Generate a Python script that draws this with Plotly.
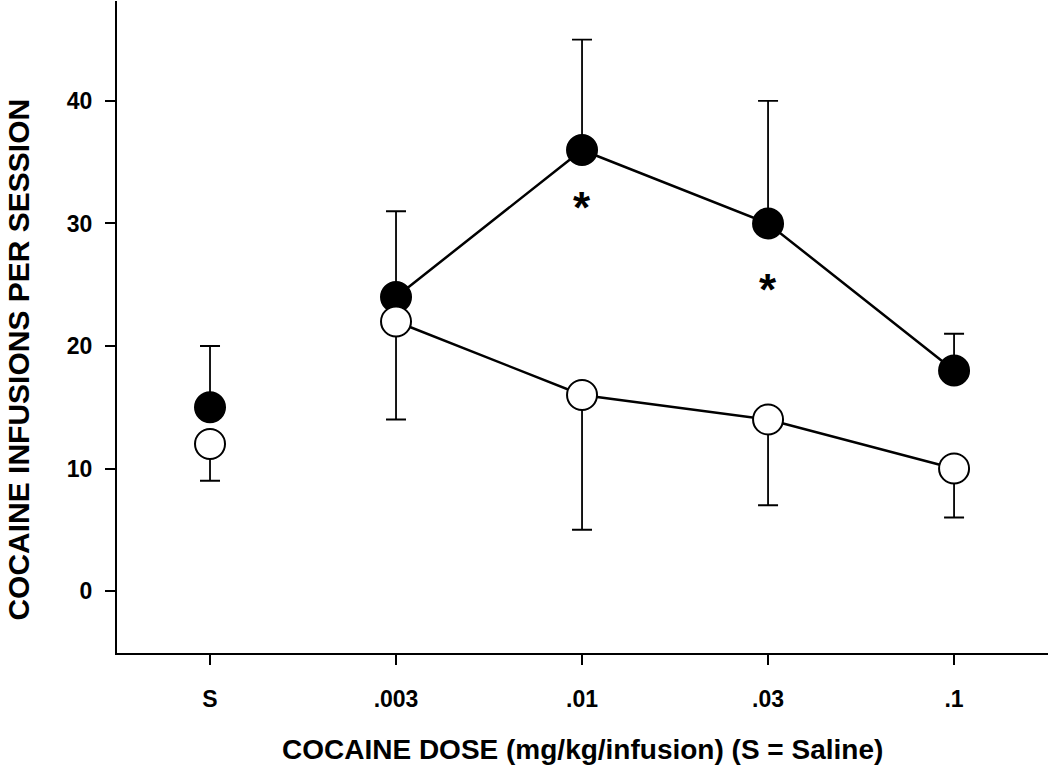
import plotly.graph_objects as go

# ---- data ----
dose_labels = ["S", ".003", ".01", ".03", ".1"]
filled_mean = [15, 24, 36, 30, 18]
filled_err_up = [5, 7, 9, 10, 3]
open_mean = [12, 22, 16, 14, 10]
open_err_down = [3, 8, 11, 7, 4]
y_ticks = [0, 10, 20, 30, 40]
star_idx = [2, 3]
star_y = [31.8, 25.1]

x_idx = list(range(len(dose_labels)))
FONT = "Liberation Sans, Arial, sans-serif"

fig = go.Figure()

def add_group(mean, err, up, fill):
    for sl in (slice(0, 1), slice(1, None)):
        e = err[sl]
        fig.add_trace(go.Scatter(
            x=x_idx[sl], y=mean[sl],
            mode="lines+markers",
            line=dict(color="black", width=2.5),
            marker=dict(size=30, color=fill, line=dict(color="black", width=2)),
            error_y=dict(type="data", symmetric=False,
                         array=e if up else [0] * len(e),
                         arrayminus=[0] * len(e) if up else e,
                         color="black", thickness=1.8, width=10),
            showlegend=False, hoverinfo="skip",
        ))

add_group(filled_mean, filled_err_up, True, "black")
add_group(open_mean, open_err_down, False, "white")

for xi, yv in zip(star_idx, star_y):
    fig.add_annotation(x=xi, y=yv, text="*", showarrow=False,
                       font=dict(family=FONT, size=44, color="black", weight="bold"),
                       xanchor="center", yanchor="middle", yshift=-6)

fig.add_annotation(xref="paper", yref="paper", x=0, y=0.45, xshift=-98,
                   text="COCAINE INFUSIONS PER SESSION", textangle=-90,
                   showarrow=False, xanchor="center", yanchor="middle",
                   font=dict(family=FONT, size=30, color="black", weight="bold"))
fig.add_annotation(xref="paper", yref="paper", x=0.5, y=0, yshift=-96,
                   text="COCAINE DOSE (mg/kg/infusion) (S = Saline)",
                   showarrow=False, xanchor="center", yanchor="middle",
                   font=dict(family=FONT, size=28, color="black", weight="bold"))

fig.update_layout(
    width=1050, height=768,
    margin=dict(l=117, r=2, t=1, b=115),
    paper_bgcolor="white", plot_bgcolor="white",
    xaxis=dict(range=[-0.5, 4.505], tickmode="array", tickvals=x_idx, ticktext=dose_labels,
               showline=True, linecolor="black", linewidth=2, ticks="outside",
               ticklen=10, tickwidth=2, tickcolor="black", showgrid=False, zeroline=False,
               ticklabelstandoff=14,
               tickfont=dict(family=FONT, size=23, color="black", weight="bold")),
    yaxis=dict(range=[-5.06, 48.16], tickmode="array", tickvals=y_ticks,
               showline=True, linecolor="black", linewidth=2, ticks="outside",
               ticklen=10, tickwidth=2, tickcolor="black", showgrid=False, zeroline=False,
               ticklabelstandoff=8,
               tickfont=dict(family=FONT, size=23, color="black", weight="bold")),
)

fig.write_html("out.html", config={"displayModeBar": False},
               post_script="document.body.style.margin='0';document.body.style.padding='0';"
                           "document.body.style.overflow='hidden';")
